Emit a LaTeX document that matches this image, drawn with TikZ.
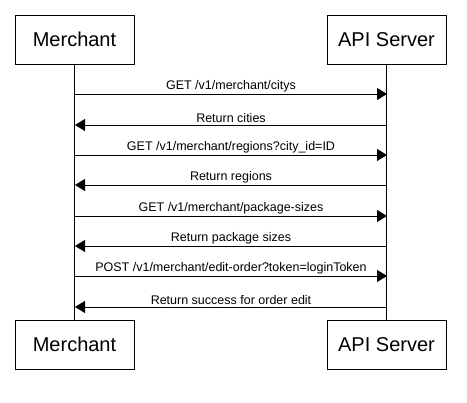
\documentclass[tikz,border=0pt]{standalone}
\usepackage{fontspec}
\setmainfont{Liberation Sans}
\usetikzlibrary{arrows.meta}

\tikzset{
  actor/.style={draw, minimum width=119pt, minimum height=49pt, inner sep=0pt, font=\fontsize{20}{20}\selectfont},
  lifeline/.style={draw, line width=0.8pt},
  msg/.style={line width=0.8pt, -{Triangle[length=10pt,width=12pt]}},
  msglabel/.style={above, inner sep=1.5pt, font=\fontsize{12.5}{12.5}\selectfont}
}

\begin{document}
\begin{tikzpicture}[x=1pt,y=1pt]
\useasboundingbox (0,0) rectangle (467,403);

\node[actor] (merchant top) at (74.5,363.5) {Merchant};
\node[actor] (server top) at (386.5,363.5) {API Server};
\node[actor] (merchant bottom) at (74.5,58.5) {Merchant};
\node[actor] (server bottom) at (386.5,58.5) {API Server};

\draw[lifeline] (merchant top) -- (merchant bottom);
\draw[lifeline] (server top) -- (server bottom);

% points on the lifelines
\coordinate (m1) at (75,309); \coordinate (s1) at (387,309);
\coordinate (m2) at (75,278); \coordinate (s2) at (387,278);
\coordinate (m3) at (75,248); \coordinate (s3) at (387,248);
\coordinate (m4) at (75,218); \coordinate (s4) at (387,218);
\coordinate (m5) at (75,187); \coordinate (s5) at (387,187);
\coordinate (m6) at (75,157); \coordinate (s6) at (387,157);
\coordinate (m7) at (75,127); \coordinate (s7) at (387,127);
\coordinate (m8) at (75,96); \coordinate (s8) at (387,96);

\draw[msg] (m1) -- (s1) node[msglabel,midway] {GET /v1/merchant/citys};
\draw[msg] (s2) -- (m2) node[msglabel,midway] {Return cities};
\draw[msg] (m3) -- (s3) node[msglabel,midway] {GET /v1/merchant/regions?city\_id=ID};
\draw[msg] (s4) -- (m4) node[msglabel,midway] {Return regions};
\draw[msg] (m5) -- (s5) node[msglabel,midway] {GET /v1/merchant/package-sizes};
\draw[msg] (s6) -- (m6) node[msglabel,midway] {Return package sizes};
\draw[msg] (m7) -- (s7) node[msglabel,midway] {POST /v1/merchant/edit-order?token=loginToken};
\draw[msg] (s8) -- (m8) node[msglabel,midway] {Return success for order edit};

\end{tikzpicture}
\end{document}
